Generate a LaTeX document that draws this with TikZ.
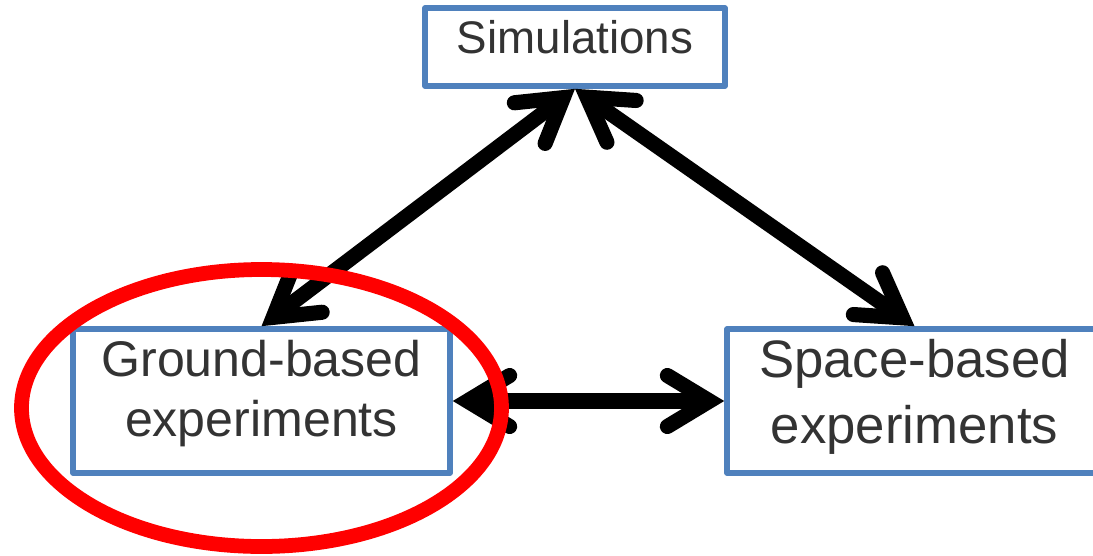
\documentclass[tikz,border=0pt]{standalone}
\usepackage{fontspec}
\setmainfont{Liberation Sans}
\usetikzlibrary{arrows.meta, positioning}
\definecolor{boxblue}{RGB}{79,129,189}
\definecolor{textgray}{RGB}{51,51,51}

\begin{document}
\begin{tikzpicture}[
        sidebox/.style={draw=boxblue, line width=3.2pt, line join=round, text=textgray, align=center, inner sep=2pt},
        link/.style={line width=8.6pt, {Straight Barb[length=24pt, width=29pt, line cap=round]}-{Straight Barb[length=24pt, width=29pt, line cap=round]}}
    ]
        % Cadre
        \useasboundingbox (0,0) rectangle (21.86,11.1);

        % --- Boites ---
        \node[sidebox, minimum width=6cm, minimum height=1.56cm, font=\fontsize{26}{31}\selectfont,
              text height=19pt, text depth=12pt] (sim) at (11.5,10.16) {Simulations};
        \node[sidebox, minimum width=7.54cm, minimum height=2.88cm, font=\fontsize{28.5}{34.2}\selectfont,
              text height=55pt, text depth=14.4pt] (ground) at (5.23,3.08) {Ground-based\\experiments};
        \node[sidebox, minimum width=7.5cm, minimum height=2.88cm, font=\fontsize{30}{37}\selectfont,
              text height=58.5pt, text depth=10.7pt] (space) at (18.29,3.08) {Space-based\\experiments};

        % --- Fleches doubles ---
        \draw[link] (sim.south) -- (ground.north);
        \draw[link] (sim.south) -- (space.north);
        \draw[link] (ground.east) -- (space.west);

        % --- Ellipse rouge autour des experiences au sol ---
        \draw[red, line width=8.4pt] (5.23,2.94) ellipse [x radius=4.8, y radius=2.77];
    \end{tikzpicture}
\end{document}
